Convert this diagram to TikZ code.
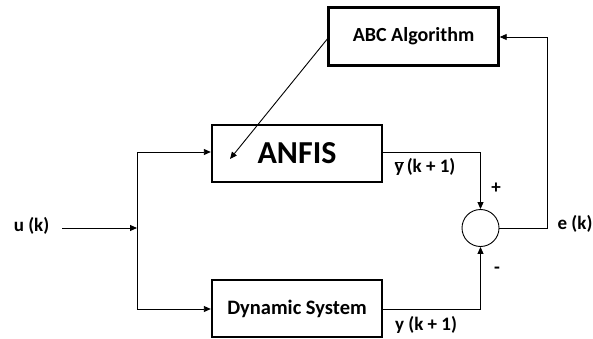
\documentclass[tikz,border=0pt]{standalone}
\usepackage{fontspec}
\setmainfont{Carlito}
\usetikzlibrary{arrows.meta}
\begin{document}
\begin{tikzpicture}[x=1pt,y=-1pt,
  blk/.style={draw,line width=2.4pt,inner sep=0pt,font=\bfseries},
  con/.style={line width=0.9pt,-{Triangle[length=7pt,width=6pt]}},
  wire/.style={line width=0.9pt},
  lbl/.style={inner sep=0pt,font=\bfseries\fontsize{19}{22}\selectfont}]
\useasboundingbox (0,0) rectangle (593,339);
\node[blk,minimum width=170,minimum height=58,font=\bfseries\fontsize{20}{24}\selectfont] (abc) at (413.5,36.5) {ABC Algorithm};
\node[blk,minimum width=170,minimum height=57,font=\bfseries\fontsize{32}{36}\selectfont] (anfis) at (297,153.5) {ANFIS};
\node[blk,minimum width=170,minimum height=57,font=\bfseries\fontsize{20.5}{24}\selectfont] (dyn) at (297,308.5) {Dynamic System};
\node[draw,circle,line width=0.9pt,minimum size=37,inner sep=0pt] (sum) at (480.5,228) {};
\node[lbl] (u) at (31.5,226) {u (k)};
\coordinate (split) at (137,228);
\coordinate (in) at (62,228);
\draw[con] (in) -- (split);
\draw[wire] (137,152) -- (137,309);
\draw[con] (137,152) -- (anfis.west |- 0,152);
\draw[con] (137,309) -- (dyn.west |- 0,309);
\draw[con] (anfis.east |- 0,152) -| (sum.north);
\draw[con] (dyn.east |- 0,309) -| (sum.south);
\draw[con] (sum.east) -- (547,228) |- (abc.east |- 0,37);
\draw[con] (abc.west |- 0,39) -- (230,159);
\node[lbl] (yb) at (425,167) {$\overline{\mbox{y}}$\,(k + 1)};
\node[lbl] (yy) at (426,325) {y (k + 1)};
\node[lbl] (plus) at (496,188) {+};
\node[lbl] (minus) at (497,270) {-};
\node[lbl] (e) at (575,224) {e (k)};
\end{tikzpicture}
\end{document}
